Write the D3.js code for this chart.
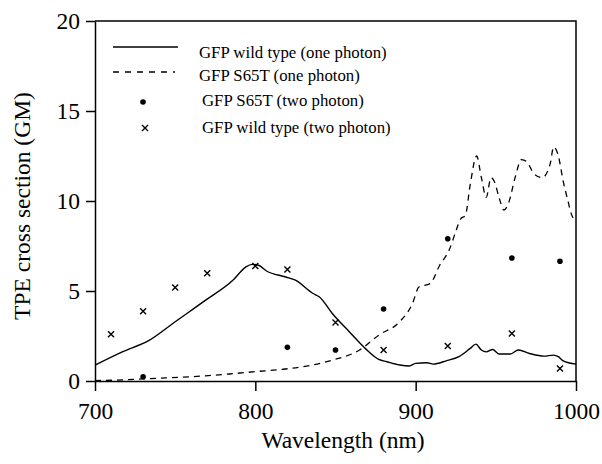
<!DOCTYPE html>
<html>
<head>
<meta charset="utf-8">
<script src="https://cdn.jsdelivr.net/npm/d3@7"></script>
<style>
  body { margin: 0; background: #fff; }
  text { font-family: "Liberation Serif", "DejaVu Serif", serif; fill: #000; }
</style>
</head>
<body>
<div id="chart"></div>
<script>
// GFP wild type (one photon) - solid curve
const wtOneNm = [700, 717, 734, 750, 769, 786, 794, 798, 802, 807, 819, 825, 836, 840, 848, 859, 869, 877, 882, 890, 896, 900, 907, 911, 919, 927, 934, 937.5, 941, 944, 948, 952, 959, 964, 971, 980, 986, 989, 992, 1000];
const wtOneGM = [0.88, 1.62, 2.27, 3.29, 4.49, 5.6, 6.33, 6.48, 6.43, 6.11, 5.78, 5.6, 4.86, 4.67, 3.75, 2.7, 1.77, 1.2, 1.07, 0.89, 0.83, 0.98, 1.01, 0.94, 1.12, 1.35, 1.81, 2.05, 1.72, 1.62, 1.75, 1.5, 1.5, 1.72, 1.53, 1.38, 1.44, 1.35, 1.12, 0.94];

// GFP S65T (one photon) - dashed curve
const s65OneNm = [700, 717, 738, 752, 769, 784, 800, 817, 832, 848, 865, 877, 890, 898, 902, 909, 915, 921, 925, 928, 931, 934, 938, 941, 944, 947, 949, 952, 955, 958, 962, 966, 969, 974, 979, 984, 986, 989, 992, 995, 997, 1000];
const s65OneGM = [0.02, 0.06, 0.15, 0.2, 0.29, 0.39, 0.52, 0.65, 0.83, 1.16, 1.72, 2.55, 3.29, 4.3, 5.22, 5.41, 6.43, 7.3, 8.3, 9.0, 9.2, 10.9, 12.5, 11.3, 10.2, 11.3, 11.1, 10.2, 9.5, 9.9, 11.3, 12.3, 12.2, 11.5, 11.3, 12.1, 13.0, 12.5, 11.1, 10.0, 9.3, 8.9];

// GFP S65T (two photon) - dots
const s65TwoNm = [730, 820, 850, 880, 920, 960, 990];
const s65TwoGM = [0.24, 1.87, 1.72, 4.0, 7.9, 6.83, 6.65];

// GFP wild type (two photon) - crosses
const wtTwoNm = [710, 730, 750, 770, 800, 820, 850, 880, 920, 960, 990];
const wtTwoGM = [2.6, 3.88, 5.19, 5.98, 6.39, 6.2, 3.25, 1.72, 1.94, 2.64, 0.7];

const xTicks = [700, 800, 900, 1000];
const yTicks = [0, 5, 10, 15, 20];
const legendLabels = [
  "GFP wild type (one photon)",
  "GFP S65T (one photon)",
  "GFP S65T (two photon)",
  "GFP wild type (two photon)"
];

const width = 602, height = 464;
const margin = { left: 95, right: 26, top: 21, bottom: 83 };

const svg = d3.select("#chart").append("svg")
  .attr("width", width)
  .attr("height", height);

const x = d3.scaleLinear().domain([700, 1000]).range([margin.left, width - margin.right]);
const y = d3.scaleLinear().domain([0, 20]).range([height - margin.bottom, margin.top]);

// Frame (top and right)
svg.append("path")
  .attr("d", `M${x(700)},${y(20)}H${x(1000)}V${y(0)}`)
  .attr("fill", "none")
  .attr("stroke", "#000")
  .attr("stroke-width", 1.5);

// Axes
const xAxis = svg.append("g")
  .attr("transform", `translate(0,${y(0)})`)
  .call(d3.axisBottom(x).tickValues(xTicks).tickSize(10).tickSizeOuter(0).tickPadding(11).tickFormat(d3.format("d")));

const yAxis = svg.append("g")
  .attr("transform", `translate(${x(700)},0)`)
  .call(d3.axisLeft(y).tickValues(yTicks).tickSize(9).tickSizeOuter(0).tickPadding(6));

[xAxis, yAxis].forEach(a => {
  a.select(".domain").attr("stroke", "#000").attr("stroke-width", 1.5);
  a.selectAll(".tick line").attr("stroke", "#000").attr("stroke-width", 1.5);
  a.selectAll(".tick text")
    .style("font-family", '"Liberation Serif", serif')
    .style("font-size", "23.5px")
    .attr("fill", "#000");
});

// Axis titles
svg.append("text")
  .attr("x", 343)
  .attr("y", 448)
  .attr("text-anchor", "middle")
  .style("font-size", "23.5px")
  .text("Wavelength (nm)");

svg.append("text")
  .attr("transform", `translate(30,206) rotate(-90)`)
  .attr("text-anchor", "middle")
  .style("font-size", "23.5px")
  .text("TPE cross section (GM)");

// Curves
const line = d3.line()
  .x(d => x(d[0]))
  .y(d => y(d[1]))
  .curve(d3.curveMonotoneX);

svg.append("path")
  .datum(d3.zip(wtOneNm, wtOneGM))
  .attr("d", line)
  .attr("fill", "none")
  .attr("stroke", "#000")
  .attr("stroke-width", 1.4);

svg.append("path")
  .datum(d3.zip(s65OneNm, s65OneGM))
  .attr("d", line)
  .attr("fill", "none")
  .attr("stroke", "#000")
  .attr("stroke-width", 1.3)
  .attr("stroke-dasharray", "6,5");

// Dots
svg.append("g").selectAll("circle")
  .data(d3.zip(s65TwoNm, s65TwoGM))
  .join("circle")
  .attr("cx", d => x(d[0]))
  .attr("cy", d => y(d[1]))
  .attr("r", 2.8)
  .attr("fill", "#000");

// Crosses
const cross = (g, cx, cy, s) => {
  g.append("path")
    .attr("d", `M${cx - s},${cy - s}L${cx + s},${cy + s}M${cx - s},${cy + s}L${cx + s},${cy - s}`)
    .attr("stroke", "#000")
    .attr("stroke-width", 1.4)
    .attr("fill", "none");
};
const crossG = svg.append("g");
d3.zip(wtTwoNm, wtTwoGM).forEach(d => cross(crossG, x(d[0]), y(d[1]), 3));

// Legend
const legend = svg.append("g");
legend.append("line")
  .attr("x1", 113).attr("x2", 178).attr("y1", 47).attr("y2", 47)
  .attr("stroke", "#000").attr("stroke-width", 1.3);
legend.append("line")
  .attr("x1", 113).attr("x2", 175).attr("y1", 72).attr("y2", 72)
  .attr("stroke", "#000").attr("stroke-width", 1.3)
  .attr("stroke-dasharray", "6,6");
legend.append("circle")
  .attr("cx", 143).attr("cy", 102).attr("r", 2.8).attr("fill", "#000");
cross(legend, 145, 128, 3);

const legendPos = [[199, 52], [199, 75], [202, 100], [202, 127]];
legendLabels.forEach((t, i) => {
  legend.append("text")
    .attr("x", legendPos[i][0])
    .attr("y", legendPos[i][1])
    .attr("dominant-baseline", "central")
    .style("font-size", "16.8px")
    .text(t);
});
</script>
</body>
</html>
